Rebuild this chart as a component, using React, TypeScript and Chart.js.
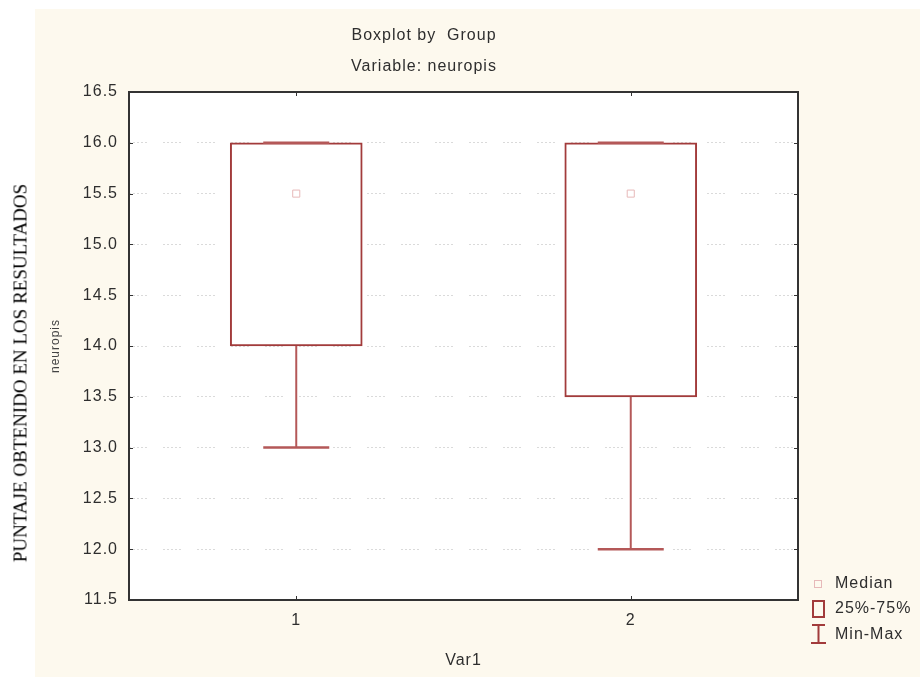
import React, { useEffect, useRef } from 'react';
import { Chart, registerables } from 'chart.js';

Chart.register(...registerables);

// ---- data ----
const categories = ['1', '2'];
const minValues = [13.0, 12.0];
const q1Values = [14.0, 13.5];
const medianValues = [15.5, 15.5];
const q3Values = [16.0, 16.0];
const maxValues = [16.0, 16.0];
const yTickValues = [11.5, 12.0, 12.5, 13.0, 13.5, 14.0, 14.5, 15.0, 15.5, 16.0, 16.5];
const titleLines = ['Boxplot by  Group', 'Variable: neuropis'];
const legendLabels = ['Median', '25%-75%', 'Min-Max'];
const xAxisTitle = 'Var1';
const yAxisTitle = 'neuropis';
const outerLabel = 'PUNTAJE OBTENIDO EN LOS RESULTADOS';

// ---- styles ----
const FONT = "'Liberation Sans', Arial, sans-serif";
const BOX_COLOR = '#a23b3b';
const WHISKER_COLOR = '#b45858';
const MEDIAN_COLOR = '#e7b9b9';
const TEXT_COLOR = '#2e2e2e';
const PANEL_COLOR = '#fdf9ee';

const statPlugin = {
  id: 'statPlugin',
  beforeLayout(chart: any) {
    chart.ctx.letterSpacing = '1px';
  },
  beforeDraw(chart: any) {
    const { ctx, chartArea: a, width, height } = chart;
    ctx.save();
    ctx.fillStyle = PANEL_COLOR;
    ctx.fillRect(35, 9, width - 35, height - 9);
    ctx.fillStyle = '#ffffff';
    ctx.fillRect(a.left, a.top, a.right - a.left, a.bottom - a.top);
    ctx.restore();
    ctx.letterSpacing = '1px';
  },
  afterDatasetsDraw(chart: any) {
    const { ctx } = chart;
    const xs = chart.scales.x;
    const ys = chart.scales.y;
    const barMeta = chart.getDatasetMeta(0);
    ctx.save();
    ctx.strokeStyle = WHISKER_COLOR;
    categories.forEach((_, i) => {
      const cx = xs.getPixelForValue(i);
      const half = (barMeta.data[i]?.width ?? 132) / 4;
      const pMin = ys.getPixelForValue(minValues[i]);
      const pQ1 = ys.getPixelForValue(q1Values[i]);
      const pQ3 = ys.getPixelForValue(q3Values[i]);
      const pMax = ys.getPixelForValue(maxValues[i]);
      ctx.lineWidth = 2;
      ctx.beginPath();
      ctx.moveTo(cx, pQ1);
      ctx.lineTo(cx, pMin);
      ctx.moveTo(cx, pQ3);
      ctx.lineTo(cx, pMax);
      ctx.stroke();
      ctx.lineWidth = 2.5;
      ctx.beginPath();
      ctx.moveTo(cx - half, pMin);
      ctx.lineTo(cx + half, pMin);
      ctx.moveTo(cx - half, pMax);
      ctx.lineTo(cx + half, pMax);
      ctx.stroke();
    });
    ctx.restore();
  },
  afterDraw(chart: any) {
    const { ctx, chartArea: a } = chart;
    const xs = chart.scales.x;
    const ys = chart.scales.y;
    ctx.save();
    ctx.letterSpacing = '1px';
    // inner tick marks
    ctx.strokeStyle = '#333';
    ctx.lineWidth = 1;
    ctx.beginPath();
    ys.ticks.forEach((t: any) => {
      const py = Math.round(ys.getPixelForValue(t.value)) + 0.5;
      ctx.moveTo(a.left, py);
      ctx.lineTo(a.left + 4, py);
      ctx.moveTo(a.right - 4, py);
      ctx.lineTo(a.right, py);
    });
    categories.forEach((_, i) => {
      const px = Math.round(xs.getPixelForValue(i)) + 0.5;
      ctx.moveTo(px, a.top);
      ctx.lineTo(px, a.top + 4);
      ctx.moveTo(px, a.bottom - 4);
      ctx.lineTo(px, a.bottom);
    });
    ctx.stroke();
    // frame
    ctx.strokeStyle = '#333';
    ctx.lineWidth = 2;
    ctx.strokeRect(a.left, a.top, a.right - a.left, a.bottom - a.top);

    // titles
    ctx.fillStyle = TEXT_COLOR;
    ctx.font = `16px ${FONT}`;
    ctx.textAlign = 'center';
    ctx.textBaseline = 'middle';
    ctx.fillText(titleLines[0], 424, 36);
    ctx.fillText(titleLines[1], 424, 67);

    // legend
    ctx.textAlign = 'left';
    const tx = 835;
    ctx.strokeStyle = MEDIAN_COLOR;
    ctx.lineWidth = 1;
    ctx.strokeRect(814.5, 580.5, 7, 7);
    ctx.fillText(legendLabels[0], tx, 584);
    ctx.strokeStyle = BOX_COLOR;
    ctx.lineWidth = 2;
    ctx.strokeRect(813, 601, 11, 16);
    ctx.fillText(legendLabels[1], tx, 609);
    ctx.strokeStyle = BOX_COLOR;
    ctx.lineWidth = 2;
    ctx.beginPath();
    ctx.moveTo(812, 625);
    ctx.lineTo(825, 625);
    ctx.moveTo(818.5, 625);
    ctx.lineTo(818.5, 643);
    ctx.moveTo(811, 643);
    ctx.lineTo(826, 643);
    ctx.stroke();
    ctx.fillText(legendLabels[2], tx, 635);
    ctx.restore();
  },
};

export default function App() {
  const canvasRef = useRef<HTMLCanvasElement | null>(null);

  useEffect(() => {
    const canvas = canvasRef.current;
    if (!canvas) return;
    const chart = new Chart(canvas, {
      type: 'bar',
      data: {
        labels: categories,
        datasets: [
          {
            type: 'bar',
            label: '25%-75%',
            order: 2,
            data: categories.map((_, i) => [q1Values[i], q3Values[i]]) as any,
            backgroundColor: '#ffffff',
            borderColor: BOX_COLOR,
            borderWidth: 2,
            borderSkipped: false,
            barThickness: 132,
          } as any,
          {
            type: 'line',
            label: 'Median',
            order: 1,
            data: medianValues,
            showLine: false,
            pointStyle: 'rect',
            pointRadius: 5,
            pointBorderWidth: 1,
            pointBackgroundColor: '#ffffff',
            pointBorderColor: MEDIAN_COLOR,
          } as any,
        ],
      },
      options: {
        responsive: false,
        animation: false,
        layout: { padding: { left: 44, right: 122, top: 92, bottom: 3 } },
        plugins: {
          legend: { display: false },
          tooltip: { enabled: false },
          title: { display: false },
        },
        scales: {
          x: {
            type: 'category',
            offset: true,
            grid: { display: false, drawTicks: false },
            border: { display: false },
            ticks: { color: TEXT_COLOR, font: { family: FONT, size: 16 }, padding: 11, maxRotation: 0 },
            title: {
              display: true,
              text: xAxisTitle,
              color: TEXT_COLOR,
              font: { family: FONT, size: 16 },
              padding: { top: 4, bottom: 4 },
            },
            afterFit(scale: any) {
              scale.height = 74;
            },
          },
          y: {
            min: 11.5,
            max: 16.5,
            grid: { color: '#dadada', lineWidth: 1, drawTicks: false },
            border: { display: false, dash: [2, 2, 2, 2, 2, 2, 2, 2, 2, 16] },
            afterBuildTicks(scale: any) {
              scale.ticks = yTickValues.map((v) => ({ value: v }));
            },
            ticks: {
              color: TEXT_COLOR,
              font: { family: FONT, size: 16 },
              padding: 11,
              callback: (v: any) => Number(v).toFixed(1),
            },
            title: {
              display: true,
              text: yAxisTitle,
              color: '#444',
              font: { family: FONT, size: 12 },
              padding: { top: 4, bottom: 4 },
            },
            afterFit(scale: any) {
              scale.width = 85;
            },
          },
        },
      } as any,
      plugins: [statPlugin],
    });
    return () => chart.destroy();
  }, []);

  return (
    <div style={{ position: 'fixed', left: 0, top: 0, width: 920, height: 677, background: '#ffffff' }}>
      <canvas ref={canvasRef} width={920} height={677} style={{ position: 'absolute', left: 0, top: 0, width: 920, height: 677 }} />
      <div
        style={{
          position: 'absolute',
          left: 20,
          top: 373,
          transform: 'translate(-50%, -50%) rotate(-90deg)',
          whiteSpace: 'nowrap',
          fontFamily: "'Liberation Serif', 'Times New Roman', serif",
          fontSize: 19,
          color: '#000',
          lineHeight: 1,
        }}
      >
        {outerLabel}
      </div>
    </div>
  );
}
